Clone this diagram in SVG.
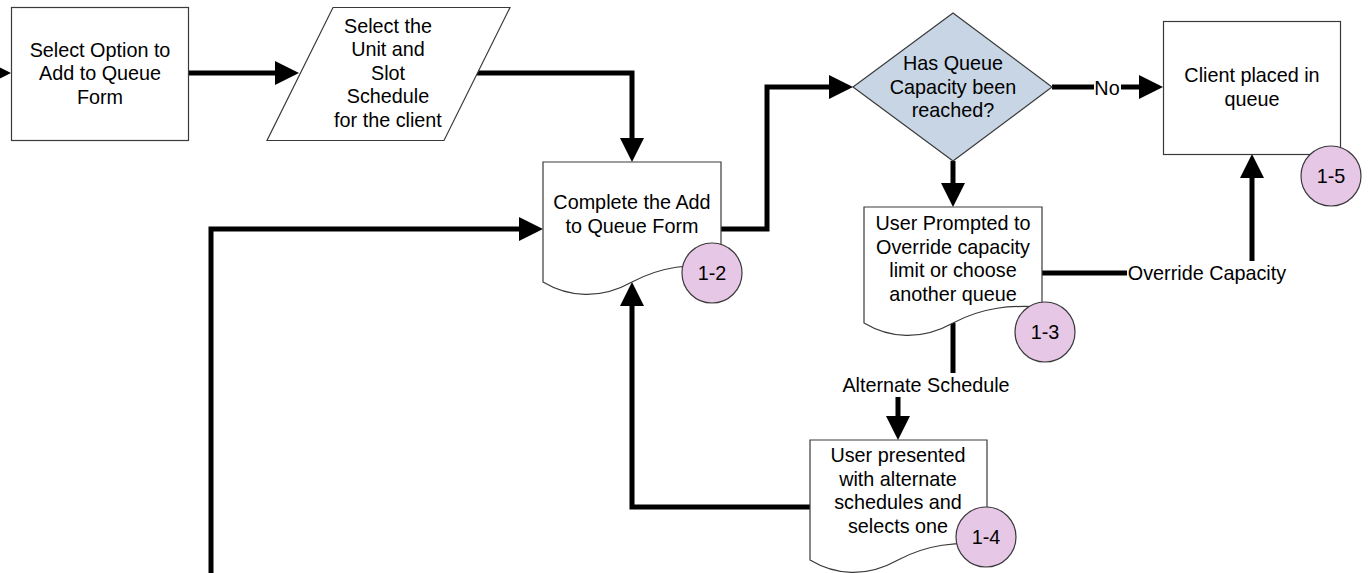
<svg xmlns="http://www.w3.org/2000/svg" width="1368" height="573" viewBox="0 0 1368 573">
  <defs>
    <style>
      .shape { fill: #ffffff; stroke: #3a3a3a; stroke-width: 1.2; }
      .diamond { fill: #c7d5e4; stroke: #3a3a3a; stroke-width: 1.2; }
      .badge { fill: #e7c7e6; stroke: #3a3a3a; stroke-width: 1.2; }
      text { font-family: "Liberation Sans", Arial, sans-serif; font-size: 19.8px; fill: #000000; text-anchor: middle; }
      .conn { fill: none; stroke: #000000; stroke-width: 5; stroke-linejoin: miter; }
      .lblbg { fill: #ffffff; stroke: none; }
    </style>
    <marker id="arrow" markerUnits="userSpaceOnUse" markerWidth="24" markerHeight="24" refX="2" refY="12" orient="auto">
      <path d="M0,0 L24,12 L0,24 Z" fill="#000000"/>
    </marker>
  </defs>
  <rect width="1368" height="573" fill="#ffffff"/>

  <g id="connectors">
    <path class="conn" d="M-20,73 H-11" marker-end="url(#arrow)"/>
    <path class="conn" d="M189,73 H277" marker-end="url(#arrow)"/>
    <path class="conn" d="M477,73 H632 V140" marker-end="url(#arrow)"/>
    <path class="conn" d="M721,229 H767 V87 H831" marker-end="url(#arrow)"/>
    <path class="conn" d="M1052,87 H1141" marker-end="url(#arrow)"/>
    <path class="conn" d="M953,161 V185" marker-end="url(#arrow)"/>
    <path class="conn" d="M1042,273 H1252 V176" marker-end="url(#arrow)"/>
    <path class="conn" d="M953,323 V385 H898 V418" marker-end="url(#arrow)"/>
    <path class="conn" d="M810,507 H632 V304" marker-end="url(#arrow)"/>
    <path class="conn" d="M211,573 V229 H521" marker-end="url(#arrow)"/>
    <g id="connector-labels">
      <rect class="lblbg" x="1094" y="76" width="27" height="23"/>
      <text x="1107" y="94.5">No</text>
      <rect class="lblbg" x="1127" y="261" width="160" height="24"/>
      <text x="1207" y="280">Override Capacity</text>
      <rect class="lblbg" x="842" y="373" width="168" height="24"/>
      <text x="926" y="392">Alternate Schedule</text>
    </g>
  </g>

  <g id="node-select-option">
    <rect class="shape" x="11.5" y="7.5" width="177" height="133"/>
    <text x="100" y="56.5">Select Option to</text>
    <text x="100" y="80">Add to Queue</text>
    <text x="100" y="103.5">Form</text>
  </g>

  <g id="node-select-unit">
    <path class="shape" d="M333,7.5 H510 L444,140.5 H267 Z"/>
    <text x="388" y="32.5">Select the</text>
    <text x="388" y="56">Unit and</text>
    <text x="388" y="79.5">Slot</text>
    <text x="388" y="103">Schedule</text>
    <text x="388" y="126.5">for the client</text>
  </g>

  <g id="node-complete-form">
    <path class="shape" d="M543,282 C568,297 600,300 632,282 C662,266 690,264 721,266 V162 H543 Z"/>
    <text x="632" y="209">Complete the Add</text>
    <text x="632" y="232.5">to Queue Form</text>
    <circle class="badge" cx="712" cy="273" r="30"/>
    <text x="712" y="280">1-2</text>
  </g>

  <g id="node-capacity-decision">
    <path class="diamond" d="M953,13 L1052,87 L953,161 L853,87 Z"/>
    <text x="953" y="70">Has Queue</text>
    <text x="953" y="93.5">Capacity been</text>
    <text x="953" y="117">reached?</text>
  </g>

  <g id="node-client-placed">
    <rect class="shape" x="1163.5" y="21.5" width="177" height="133"/>
    <text x="1252" y="82">Client placed in</text>
    <text x="1252" y="105.5">queue</text>
    <circle class="badge" cx="1331" cy="176" r="30"/>
    <text x="1331" y="183">1-5</text>
  </g>

  <g id="node-user-prompted">
    <path class="shape" d="M864,323 C889,338 921,341 953,323 C983,307 1011,305 1042,307 V207 H864 Z"/>
    <text x="953" y="230">User Prompted to</text>
    <text x="953" y="253.5">Override capacity</text>
    <text x="953" y="277">limit or choose</text>
    <text x="953" y="300.5">another queue</text>
    <circle class="badge" cx="1045" cy="332" r="30"/>
    <text x="1045" y="339">1-3</text>
  </g>

  <g id="node-alternate-schedules">
    <path class="shape" d="M810,560 C835,575 866,578 898,560 C928,544 956,542 987,544 V440 H810 Z"/>
    <text x="898" y="462">User presented</text>
    <text x="898" y="485.5">with alternate</text>
    <text x="898" y="509">schedules and</text>
    <text x="898" y="532.5">selects one</text>
    <circle class="badge" cx="986" cy="537" r="30"/>
    <text x="986" y="544">1-4</text>
  </g>
</svg>
